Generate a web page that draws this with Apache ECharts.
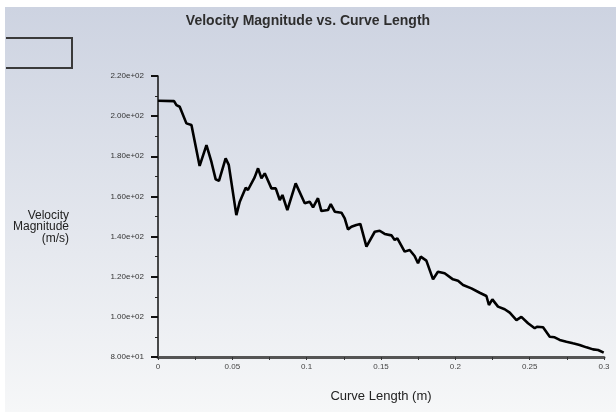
<!DOCTYPE html>
<html>
<head>
<meta charset="utf-8">
<script src="https://cdn.jsdelivr.net/npm/echarts@6/dist/echarts.min.js"></script>
<style>
  html, body { margin: 0; padding: 0; background: #ffffff; }
  #chart { width: 616px; height: 412px; }
</style>
</head>
<body>
<div id="chart"></div>
<script>
// Velocity magnitude sampled along the curve (length in m, velocity in m/s)
const curveLength = [
  0, 0.0108, 0.0124, 0.0146, 0.0157, 0.0191, 0.0225, 0.0235, 0.0280, 0.0326,
  0.0359, 0.0388, 0.0410, 0.0455, 0.0476, 0.0527, 0.0550, 0.0590, 0.0605, 0.0650,
  0.0673, 0.0696, 0.0718, 0.0763, 0.0792, 0.0819, 0.0837, 0.0870, 0.0926, 0.0987,
  0.1020, 0.1043, 0.1076, 0.1099, 0.1143, 0.1162, 0.1189, 0.1234, 0.1256, 0.1278,
  0.1301, 0.1334, 0.1361, 0.1402, 0.1458, 0.1491, 0.1525, 0.1570, 0.1592, 0.1610,
  0.1659, 0.1693, 0.1726, 0.1749, 0.1767, 0.1805, 0.1850, 0.1883, 0.1928, 0.1940,
  0.1984, 0.2018, 0.2052, 0.2108, 0.2164, 0.2209, 0.2226, 0.2249, 0.2287, 0.2332,
  0.2366, 0.2411, 0.2444, 0.2489, 0.2534, 0.2549, 0.2590, 0.2635, 0.2668, 0.2702,
  0.2747, 0.2791, 0.2836, 0.2882, 0.2926, 0.2960, 0.2998
];
const velocity = [
  207.7, 207.5, 205.5, 204.7, 205.2, 196.4, 195.6, 195.0, 175.2, 185.6,
  177.3, 168.5, 167.8, 179.0, 175.7, 150.7, 157.4, 164.3, 163.2, 169.5,
  174.0, 169.0, 171.5, 164.0, 164.0, 158.2, 160.7, 153.2, 166.5, 156.6,
  157.4, 154.6, 159.1, 152.7, 153.2, 156.2, 152.4, 151.9, 149.1, 143.6,
  144.9, 145.8, 146.3, 135.0, 142.4, 142.9, 141.3, 140.6, 138.3, 139.1,
  132.5, 133.3, 130.3, 126.7, 130.0, 128.0, 118.7, 122.5, 121.7, 121.3,
  118.7, 118.0, 115.9, 114.2, 112.0, 110.4, 105.9, 108.7, 105.1, 103.8,
  102.1, 98.4, 100.0, 96.8, 94.3, 95.1, 94.8, 90.1, 89.8, 88.5,
  87.6, 86.8, 86.0, 84.8, 83.8, 83.5, 82.2
];

// Axis ranges
const xTicks = { min: 0, max: 0.3, step: 0.05 };
const yTicks = { min: 80, max: 220, step: 20 };

const titleText = 'Velocity Magnitude vs. Curve Length';
const xName = 'Curve Length (m)';
const yName = 'Velocity\nMagnitude\n(m/s)';

// 2.20e+02 style labels
function sci(v) {
  const s = Number(v).toExponential(2);
  return s.replace(/e([+-])(\d)$/, 'e$10$2');
}

const chart = echarts.init(document.getElementById('chart'), null, { renderer: 'canvas' });

const narrow = "'Liberation Sans Narrow', 'Liberation Sans', Arial, sans-serif";
const sans = "'Liberation Sans', Arial, sans-serif";

chart.setOption({
  animation: false,
  backgroundColor: '#ffffff',
  title: {
    text: titleText,
    left: 'center',
    top: 9,
    textStyle: { fontFamily: narrow, fontSize: 14, fontWeight: 'bold', color: '#2e2e2e' }
  },
  graphic: [
    {
      type: 'rect',
      z: -10,
      silent: true,
      shape: { x: 5, y: 7, width: 611, height: 405 },
      style: {
        fill: new echarts.graphic.LinearGradient(0, 0, 0, 1, [
          { offset: 0, color: '#cdd3e1' },
          { offset: 1, color: '#f6f7f8' }
        ])
      }
    },
    {
      type: 'polyline',
      silent: true,
      shape: { points: [[6, 38], [72, 38], [72, 68], [6, 68]] },
      style: { stroke: '#3a3a3a', lineWidth: 2, fill: null }
    },
    {
      // value-axis title, right-aligned to the left of the tick labels
      type: 'text',
      silent: true,
      x: 69,
      y: 227,
      style: {
        text: yName,
        fontFamily: sans,
        fontSize: 12,
        lineHeight: 11.5,
        fill: '#222',
        align: 'right',
        verticalAlign: 'middle'
      }
    }
  ],
  grid: { left: 158, right: 12, top: 76, bottom: 55, containLabel: false },
  xAxis: {
    type: 'value',
    min: xTicks.min,
    max: xTicks.max,
    interval: xTicks.step,
    name: xName,
    nameLocation: 'middle',
    nameGap: 33,
    nameTextStyle: { fontFamily: sans, fontSize: 13, color: '#222' },
    axisLine: { show: true, onZero: false, lineStyle: { color: '#555', width: 3 } },
    axisTick: { show: true, length: 3, lineStyle: { color: '#333', width: 1 } },
    minorTick: { show: true, splitNumber: 2, length: 3, lineStyle: { color: '#333', width: 1 } },
    splitLine: { show: false },
    axisLabel: {
      margin: 6,
      fontFamily: sans,
      fontSize: 8,
      color: '#444',
      formatter: v => String(+v.toFixed(2))
    }
  },
  yAxis: {
    type: 'value',
    min: yTicks.min,
    max: yTicks.max,
    interval: yTicks.step,
    axisLine: { show: true, onZero: false, lineStyle: { color: '#111', width: 1.5 } },
    axisTick: { show: true, length: 7, lineStyle: { color: '#111', width: 2 } },
    minorTick: { show: true, splitNumber: 2, length: 3, lineStyle: { color: '#222', width: 1 } },
    splitLine: { show: false },
    axisLabel: {
      margin: 14,
      fontFamily: narrow,
      fontSize: 8,
      color: '#333',
      formatter: sci
    }
  },
  series: [{
    type: 'line',
    data: curveLength.map((x, i) => [x, velocity[i]]),
    showSymbol: false,
    symbol: 'none',
    smooth: false,
    lineStyle: { color: '#000', width: 2.6 }
  }]
});
</script>
</body>
</html>
